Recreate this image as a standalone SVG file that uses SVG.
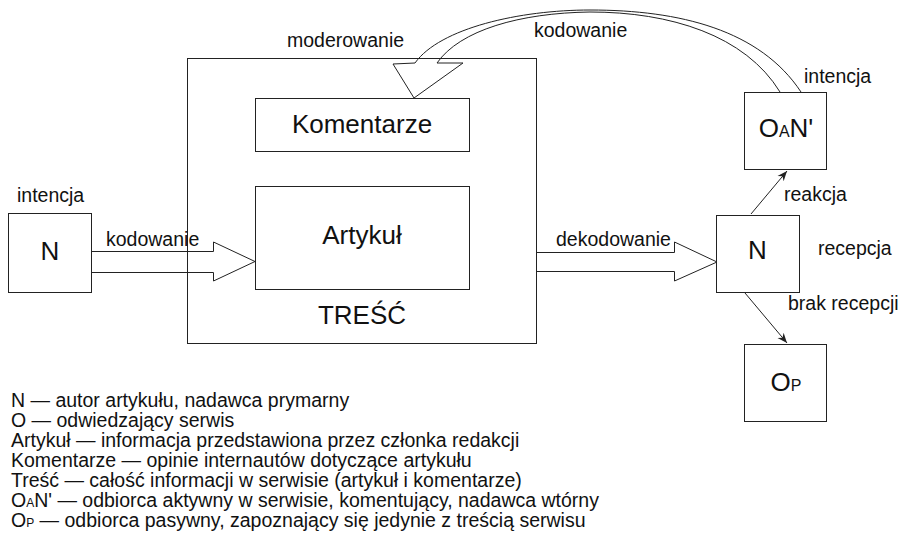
<svg xmlns="http://www.w3.org/2000/svg" width="900" height="550" viewBox="0 0 900 550">
<defs>
<style>
text{font-family:"Liberation Sans",Arial,sans-serif;fill:#111}
.lbl{font-size:19.5px}
.big{font-size:26px;text-anchor:middle}
.leg{font-size:19.5px}
.box{fill:#fff;stroke:#222;stroke-width:1}
.frame{fill:none;stroke:#222;stroke-width:1}
.blk{fill:none;stroke:#222;stroke-width:1;stroke-linejoin:miter}
.thin{fill:none;stroke:#222;stroke-width:1;marker-end:url(#ah)}
</style>
<marker id="ah" viewBox="0 0 10 10" refX="10" refY="5" markerWidth="10" markerHeight="10" markerUnits="userSpaceOnUse" orient="auto">
<path d="M0,1 L10,5 L0,9 L3,5 Z" fill="#222"/>
</marker>
</defs>
<rect width="900" height="550" fill="#fff"/>

<g id="tresc">
<rect class="frame" x="187.5" y="58.5" width="349" height="285"/>
<text class="big" x="362" y="324">TREŚĆ</text>
</g>

<g id="komentarze">
<rect class="box" x="255.5" y="98.5" width="214" height="53"/>
<text class="big" x="362" y="133">Komentarze</text>
</g>

<g id="artykul">
<rect class="box" x="255.5" y="186.5" width="214" height="103"/>
<text class="big" x="362" y="244">Artykuł</text>
</g>

<g id="nadawca">
<rect class="box" x="8.5" y="213.5" width="83" height="79"/>
<text class="big" x="50" y="260">N</text>
</g>

<g id="odbiorca">
<rect class="box" x="716.5" y="215.5" width="83" height="77"/>
<text class="big" x="757.5" y="259">N</text>
</g>

<g id="oan">
<rect class="box" x="744.5" y="92.5" width="82" height="77"/>
<text class="big" x="786" y="137">O<tspan font-size="16">A</tspan>N'</text>
</g>

<g id="op">
<rect class="box" x="744.5" y="344.5" width="82" height="77"/>
<text class="big" x="786" y="391">O<tspan font-size="16">P</tspan></text>
</g>

<g id="connectors">
<path class="blk" d="M91.5,251.5 H213.5 V242 L255,261.5 L213.5,281 V272.5 H91.5"/>
<path class="blk" d="M536.5,252.5 H674.5 V242 L717,262 L674.5,281 V271.5 H536.5"/>
<path class="blk" d="M801,92 C760,30 680,10 590,10 C520,10 440,28 415,63 L393,64 L414,98 L463,63 L437,63 C460,30 520,13 590,12 C670,12 745,35 780,92"/>
<line class="thin" x1="751" y1="214" x2="787" y2="171"/>
<line class="thin" x1="745" y1="293" x2="787" y2="343"/>
</g>

<g id="labels">
<text class="lbl" x="287" y="47">moderowanie</text>
<text class="lbl" x="534" y="37">kodowanie</text>
<text class="lbl" x="804" y="83">intencja</text>
<text class="lbl" x="17" y="202">intencja</text>
<text class="lbl" x="106" y="246">kodowanie</text>
<text class="lbl" x="556" y="246">dekodowanie</text>
<text class="lbl" x="784" y="201">reakcja</text>
<text class="lbl" x="818" y="255">recepcja</text>
<text class="lbl" x="788" y="310">brak recepcji</text>
</g>

<g id="legend">
<text class="leg" x="11" y="407">N — autor artykułu, nadawca prymarny</text>
<text class="leg" x="11" y="427">O — odwiedzający serwis</text>
<text class="leg" x="11" y="447">Artykuł — informacja przedstawiona przez członka redakcji</text>
<text class="leg" x="11" y="467">Komentarze — opinie internautów dotyczące artykułu</text>
<text class="leg" x="11" y="487">Treść — całość informacji w serwisie (artykuł i komentarze)</text>
<text class="leg" x="11" y="507">O<tspan font-size="12">A</tspan>N' — odbiorca aktywny w serwisie, komentujący, nadawca wtórny</text>
<text class="leg" x="11" y="527">O<tspan font-size="12">P</tspan> — odbiorca pasywny, zapoznający się jedynie z treścią serwisu</text>
</g>
</svg>
